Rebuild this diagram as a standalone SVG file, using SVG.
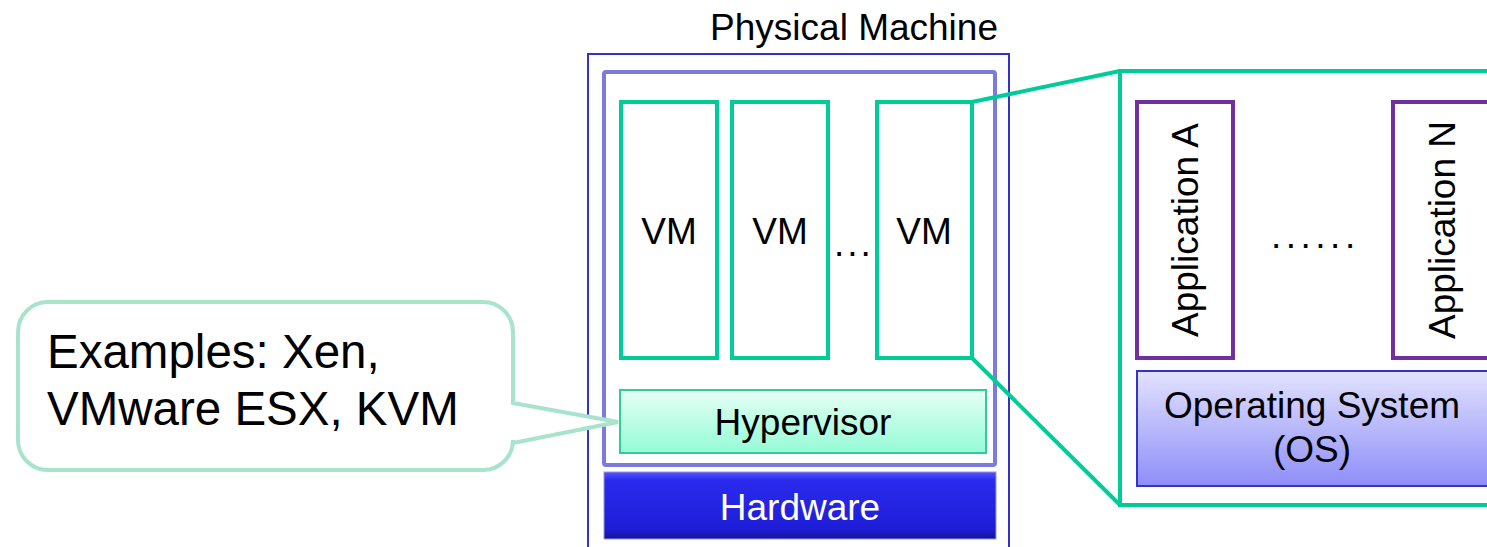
<svg xmlns="http://www.w3.org/2000/svg" width="1487" height="547" viewBox="0 0 1487 547">
<defs>
<linearGradient id="gHyp" x1="0" y1="0" x2="0" y2="1"><stop offset="0" stop-color="#e6fff4"/><stop offset="1" stop-color="#94fbd6"/></linearGradient>
<linearGradient id="gOS" x1="0" y1="0" x2="0" y2="1"><stop offset="0" stop-color="#e2e2ff"/><stop offset="1" stop-color="#8e8ef8"/></linearGradient>
<linearGradient id="gHw" x1="0" y1="0" x2="0" y2="1"><stop offset="0" stop-color="#5555ff"/><stop offset="0.12" stop-color="#2a2aee"/><stop offset="0.85" stop-color="#1e1ed8"/><stop offset="1" stop-color="#14149a"/></linearGradient>
<style>
text{font-family:"Liberation Sans",Arial,sans-serif;fill:#000}
.t36{font-size:37px}
.vm{fill:#fff;stroke:#00cc99;stroke-width:4}
.app{fill:#fff;stroke:#7030a0;stroke-width:4}
.conn{fill:none;stroke:#00cc99;stroke-width:4}
</style>
</defs>
<g id="physical-machine">
<rect x="588" y="54" width="421" height="500" fill="#fff" stroke="#3333cc" stroke-width="2"/>
<text class="t36" x="998" y="40" text-anchor="end">Physical Machine</text>
</g>
<g id="virtualization-layer">
<rect x="604" y="72" width="391" height="393" fill="#fff" stroke="#7b7bdd" stroke-width="4" rx="2"/>
</g>
<g id="vm1"><rect class="vm" x="621" y="102" width="96" height="256"/><text class="t36" x="669" y="244" text-anchor="middle">VM</text></g>
<g id="vm2"><rect class="vm" x="732" y="102" width="96" height="256"/><text class="t36" x="780" y="244" text-anchor="middle">VM</text></g>
<text class="t36" x="834" y="256" letter-spacing="3">...</text>
<g id="vm3"><rect class="vm" x="877" y="102" width="95" height="256"/><text class="t36" x="924" y="244" text-anchor="middle">VM</text></g>
<g id="hypervisor">
<rect x="620" y="390" width="366" height="63" fill="url(#gHyp)" stroke="#33cc99" stroke-width="2"/>
<text class="t36" x="803" y="435" text-anchor="middle">Hypervisor</text>
</g>
<g id="hardware">
<rect x="604" y="472" width="392" height="67" fill="url(#gHw)" stroke="#9999dd" stroke-width="1"/>
<text class="t36" x="800" y="520" text-anchor="middle" style="fill:#fff">Hardware</text>
</g>
<g id="vm-detail">
<rect x="1120" y="71" width="380" height="434" fill="#fff" stroke="#00cc99" stroke-width="4"/>
</g>
<g id="app-a"><rect class="app" x="1137" y="102" width="96" height="256"/><text class="t36" transform="translate(1198,230) rotate(-90)" text-anchor="middle">Application A</text></g>
<text class="t36" x="1271" y="248" letter-spacing="4.5">......</text>
<g id="app-n"><rect class="app" x="1393" y="102" width="96" height="256"/><text class="t36" transform="translate(1455,230) rotate(-90)" text-anchor="middle">Application N</text></g>
<g id="os">
<rect x="1137" y="371" width="352" height="115" fill="url(#gOS)" stroke="#3333cc" stroke-width="2"/>
<text class="t36" x="1312" y="418" text-anchor="middle">Operating System</text>
<text class="t36" x="1312" y="462" text-anchor="middle">(OS)</text>
</g>
<g id="callout">
<path d="M48,302 H483 A30,30 0 0 1 513,332 V403 L618,422 L513,443 V440 A30,30 0 0 1 483,470 H48 A30,30 0 0 1 18,440 V332 A30,30 0 0 1 48,302 Z" fill="#fff" stroke="#a8e4cc" stroke-width="4"/>
<text x="47" y="368" style="font-size:47.5px">Examples: Xen,</text>
<text x="47" y="425" style="font-size:47.5px">VMware ESX, KVM</text>
</g>
<g id="connectors">
<path class="conn" d="M972,102 L1120,71"/>
<path class="conn" d="M972,358 L1120,505"/>
</g>
</svg>
